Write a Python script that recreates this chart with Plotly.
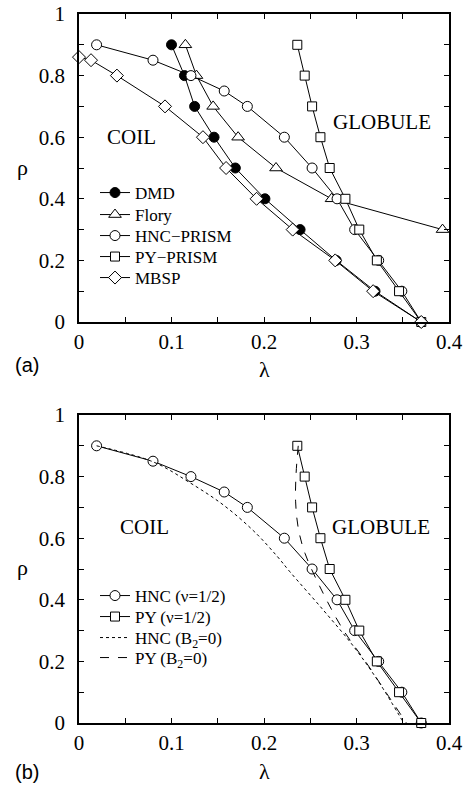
import plotly.graph_objects as go

# ---------------- data (panel a) ----------------
rho_10 = [0.9, 0.8, 0.7, 0.6, 0.5, 0.4, 0.3, 0.2, 0.1, 0.0]

dmd_lam = [0.100, 0.114, 0.125, 0.146, 0.169, 0.201, 0.239, 0.278, 0.320, 0.370]
dmd_rho = rho_10

flory_lam = [0.115, 0.127, 0.145, 0.172, 0.213, 0.273, 0.393]
flory_rho = [0.9, 0.8, 0.7, 0.6, 0.5, 0.4, 0.3]

hnc_lam = [0.019, 0.080, 0.121, 0.157, 0.182, 0.222, 0.252, 0.279, 0.298, 0.324, 0.349, 0.370]
hnc_rho = [0.9, 0.85, 0.8, 0.75, 0.7, 0.6, 0.5, 0.4, 0.3, 0.2, 0.1, 0.0]

py_lam = [0.236, 0.244, 0.252, 0.261, 0.271, 0.288, 0.303, 0.322, 0.346, 0.370]
py_rho = rho_10

mbsp_lam = [0.000, 0.013, 0.041, 0.093, 0.134, 0.159, 0.192, 0.231, 0.277, 0.318, 0.370]
mbsp_rho = [0.86, 0.85, 0.8, 0.7, 0.6, 0.5, 0.4, 0.3, 0.2, 0.1, 0.0]

# ---------------- data (panel b) ----------------
hncB2_lam = [0.019, 0.080, 0.120, 0.156, 0.189, 0.214, 0.228, 0.264, 0.297, 0.325, 0.351]
hncB2_rho = [0.90, 0.848, 0.78, 0.708, 0.623, 0.542, 0.491, 0.367, 0.248, 0.129, 0.0]

pyB2_lam = [0.237, 0.2346, 0.2342, 0.2371, 0.2443, 0.264, 0.2857, 0.311, 0.3326, 0.354]
pyB2_rho = [0.9, 0.805, 0.718, 0.632, 0.551, 0.421, 0.302, 0.194, 0.096, 0.0]

x_ticks = [0, 0.1, 0.2, 0.3, 0.4]
x_ticklabels = ["0", "0.1", "0.2", "0.3", "0.4"]
y_ticks = [0, 0.2, 0.4, 0.6, 0.8, 1.0]
y_ticklabels = ["0", "0.2", "0.4", "0.6", "0.8", "1"]

SERIF = "Liberation Serif"
SANS = "Liberation Sans"
W, H = 468, 785

fig = go.Figure()

def add(x, y, name, symbol, size, fill, xa, ya, legend, dash="solid", mode="lines+markers", shape="linear"):
    fig.add_trace(go.Scatter(
        x=x, y=y, name=name, mode=mode, xaxis=xa, yaxis=ya, legend=legend,
        cliponaxis=False,
        line=dict(color="black", width=1, dash=dash, shape=shape),
        marker=dict(symbol=symbol, size=size, color=fill,
                    line=dict(color="black", width=1)),
    ))

# panel a
add(dmd_lam, dmd_rho, "DMD", "circle", 10, "black", "x", "y", "legend")
add(flory_lam, flory_rho, "Flory", "triangle-up", 11, "white", "x", "y", "legend2")
add(hnc_lam, hnc_rho, "HNC\u2212PRISM", "circle", 10, "white", "x", "y", "legend3")
add(py_lam, py_rho, "PY\u2212PRISM", "square", 9, "white", "x", "y", "legend4")
add(mbsp_lam, mbsp_rho, "MBSP", "diamond", 10, "white", "x", "y", "legend5")

# panel b
add(hnc_lam, hnc_rho, "HNC (\u03bd=1/2)", "circle", 10, "white", "x2", "y2", "legend6")
add(py_lam, py_rho, "PY (\u03bd=1/2)", "square", 9, "white", "x2", "y2", "legend7")
add(hncB2_lam, hncB2_rho, "HNC (B<sub>2</sub>=0)", "circle", 1, "black", "x2", "y2", "legend8",
    dash="dot", mode="lines", shape="spline")
add(pyB2_lam, pyB2_rho, "PY (B<sub>2</sub>=0)", "circle", 1, "black", "x2", "y2", "legend9",
    dash="dash", mode="lines", shape="spline")

xdom = [79 / W, 449 / W]
ydom_a = [1 - 322 / H, 1 - 14 / H]
ydom_b = [1 - 723 / H, 1 - 415 / H]

TICKSIZE = 21

def xaxis(anchor):
    return dict(domain=xdom, anchor=anchor, range=[0, 0.4], tickvals=x_ticks, ticktext=x_ticklabels,
                ticks="inside", ticklen=5, tickwidth=1, tickcolor="black",
                minor=dict(tickvals=[0.05, 0.15, 0.25, 0.35], ticks="inside", ticklen=5, tickcolor="black"),
                showline=True, linecolor="black", linewidth=1.5, mirror="ticks",
                showgrid=False, zeroline=False,
                tickfont=dict(family=SERIF, size=TICKSIZE, color="black"), automargin=False)

def yaxis(anchor, dom):
    return dict(domain=dom, anchor=anchor, range=[0, 1], tickvals=y_ticks, ticktext=y_ticklabels,
                ticks="inside", ticklen=5, tickwidth=1, tickcolor="black",
                minor=dict(tickvals=[0.1, 0.3, 0.5, 0.7, 0.9], ticks="inside", ticklen=5, tickcolor="black"),
                showline=True, linecolor="black", linewidth=1.5, mirror="ticks",
                showgrid=False, zeroline=False, ticklabelstandoff=8,
                tickfont=dict(family=SERIF, size=TICKSIZE, color="black"), automargin=False)

def leg(ycenter):
    return dict(x=95 / W, y=1 - ycenter / H, xanchor="left", yanchor="middle",
                bgcolor="rgba(0,0,0,0)", borderwidth=0,
                font=dict(family=SERIF, size=17, color="black"),
                tracegroupgap=0, itemwidth=30)

rows_a = [193, 215, 236, 257, 278]
rows_b = [596, 617, 638, 658]

legends = {}
for i, yc in enumerate(rows_a + rows_b):
    key = "legend" if i == 0 else "legend%d" % (i + 1)
    legends[key] = leg(yc)

fig.update_layout(
    width=W, height=H,
    margin=dict(l=0, r=0, t=0, b=0),
    paper_bgcolor="white", plot_bgcolor="white",
    showlegend=True,
    xaxis=xaxis("y"), yaxis=yaxis("x", ydom_a),
    xaxis2=xaxis("y2"), yaxis2=yaxis("x2", ydom_b),
    **legends,
)

def ann(text, x, y, xref, yref, size, family=SERIF, xanchor="center", yanchor="middle"):
    fig.add_annotation(text=text, x=x, y=y, xref=xref, yref=yref, showarrow=False,
                       font=dict(family=family, size=size, color="black"),
                       xanchor=xanchor, yanchor=yanchor)

# region labels
ann("COIL", 0.057, 0.60, "x", "y", 21)
ann("GLOBULE", 0.328, 0.649, "x", "y", 21)
ann("COIL", 0.071, 0.635, "x2", "y2", 21)
ann("GLOBULE", 0.326, 0.636, "x2", "y2", 21)

# axis titles and panel labels
ann("\u03c1", 22 / W, 1 - 168 / H, "paper", "paper", 22)
ann("\u03bb", 264 / W, 1 - 369 / H, "paper", "paper", 22)
ann("(a)", 27 / W, 1 - 365 / H, "paper", "paper", 20, family=SANS)
ann("\u03c1", 22 / W, 1 - 567 / H, "paper", "paper", 22)
ann("\u03bb", 264 / W, 1 - 771 / H, "paper", "paper", 22)
ann("(b)", 27 / W, 1 - 772 / H, "paper", "paper", 20, family=SANS)

fig.write_html("out.html")
